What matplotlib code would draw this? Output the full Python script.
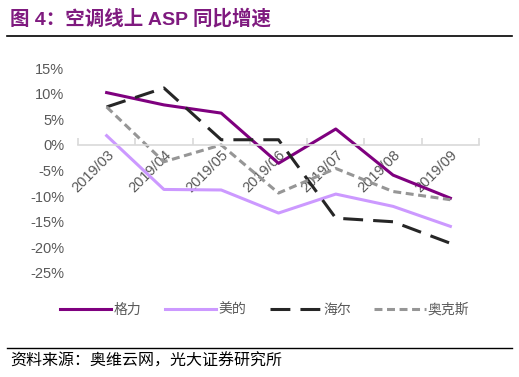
import matplotlib.pyplot as plt
from matplotlib.lines import Line2D

plt.rcParams['font.family'] = ['Liberation Sans', 'Noto Sans CJK SC', 'DejaVu Sans']

months = ['2019/03', '2019/04', '2019/05', '2019/06', '2019/07', '2019/08', '2019/09']
gree = [10.2, 7.8, 6.2, -3.6, 3.1, -5.9, -10.4]
midea = [1.8, -8.7, -8.8, -13.3, -9.6, -12.0, -15.9]
haier = [7.4, 11.1, 1.0, 1.0, -14.3, -15.0, -19.2]
aux = [7.4, -3.3, 0.0, -9.4, -4.6, -9.1, -10.7]
names = ['格力', '美的', '海尔', '奥克斯']

fig = plt.figure(figsize=(5.19, 3.77), dpi=100, facecolor='white')
ax = fig.add_axes([78 / 519, 1 - 273 / 377, 401 / 519, 205 / 377])

x = list(range(len(months)))
lw = 2.2
ax.plot(x, gree, color='#7F007F', lw=lw, label=names[0])
ax.plot(x, midea, color='#CC99FF', lw=lw, label=names[1])
ax.plot(x, haier, color='#262626', lw=lw, dashes=(6.5, 3.3), dash_capstyle='butt', label=names[2])
ax.plot(x, aux, color='#969696', lw=lw, dashes=(2.6, 1.5), dash_capstyle='butt', label=names[3])

ax.set_xlim(-0.5, len(months) - 0.5)
ax.set_ylim(-25, 15)
ax.set_yticks(range(-25, 16, 5))
ax.set_yticklabels([f'{v}%' for v in range(-25, 16, 5)], fontsize=10.5, color='#595959')

for s in ['top', 'right', 'left']:
    ax.spines[s].set_visible(False)
ax.spines['bottom'].set_position(('data', 0))
ax.spines['bottom'].set_color('#D9D9D9')
ax.spines['bottom'].set_linewidth(1.2)
ax.tick_params(axis='y', length=0, pad=10)

# boundary ticks between categories
ax.set_xticks([i - 0.5 for i in range(len(months) + 1)], minor=True)
ax.set_xticks(x)
ax.set_xticklabels(months, rotation=45, ha='right', va='top', rotation_mode='anchor',
                   fontsize=10.5, color='#595959')
ax.tick_params(axis='x', which='major', length=0, pad=2)
ax.tick_params(axis='x', which='minor', direction='in', length=5, color='#D9D9D9', width=1.2)

leg = fig.legend(loc='center', bbox_to_anchor=(0.51, 1 - 310 / 377), ncol=4, frameon=False,
                 fontsize=10, handlelength=3.7, columnspacing=1.7, handletextpad=0.15)
for t in leg.get_texts():
    t.set_color('#595959')

fig.text(10 / 519, 1 - 19 / 377, '图 4：空调线上 ASP 同比增速', fontsize=14, fontweight='bold',
         color='#7F1A7F', va='center', ha='left')
fig.add_artist(Line2D([7 / 519, 512 / 519], [1 - 36 / 377] * 2, color='black', lw=1.2))
fig.add_artist(Line2D([7 / 519, 512 / 519], [1 - 348 / 377] * 2, color='black', lw=1.0))
fig.text(10 / 519, 1 - 361 / 377, '资料来源：奥维云网，光大证券研究所', fontsize=11.5,
         color='black', va='center', ha='left')

fig.savefig('out.png', dpi=100, facecolor='white')
